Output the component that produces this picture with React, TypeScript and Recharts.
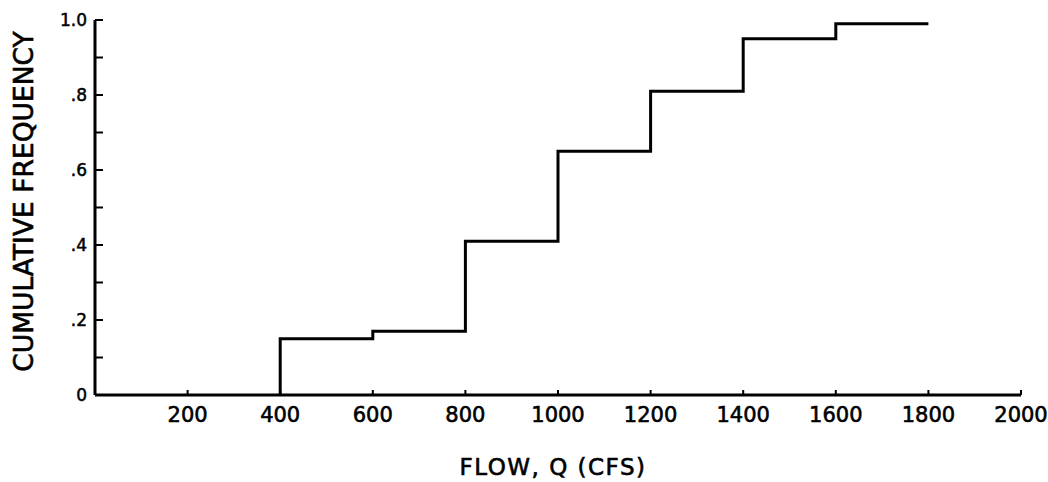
import React from "react";
import { LineChart, Line, XAxis, YAxis } from "recharts";

// step points of the cumulative frequency curve
const flows = [400, 400, 600, 800, 1000, 1200, 1400, 1600, 1800];
const cumFreq = [0, 0.15, 0.17, 0.41, 0.65, 0.81, 0.95, 0.99, 0.99];

const xTicks = [200, 400, 600, 800, 1000, 1200, 1400, 1600, 1800, 2000];
const yTicks = [0, 0.1, 0.2, 0.3, 0.4, 0.5, 0.6, 0.7, 0.8, 0.9, 1.0];
const yTickLabels: Record<string, string> = {
  "0": "0", "0.2": ".2", "0.4": ".4", "0.6": ".6", "0.8": ".8", "1": "1.0",
};

const data = flows.map((q, i) => ({ q, f: cumFreq[i] }));

const FONT = "'DejaVu Sans', sans-serif";

const YTitle = (props: any) => {
  const vb = props.viewBox || { x: 0, y: 0, width: 0, height: 0 };
  const x = vb.x + 23;
  const y = vb.y + vb.height / 2 - 6;
  return (
    <text x={x} y={y} transform={`rotate(-90, ${x}, ${y})`} textAnchor="middle"
      dominantBaseline="central" fontFamily={FONT} fontSize={26.5} fill="#000"
      stroke="#000" strokeWidth={0.6}>
      CUMULATIVE FREQUENCY
    </text>
  );
};

const XTitle = (props: any) => {
  const vb = props.viewBox || { x: 0, y: 0, width: 0, height: 0 };
  return (
    <text x={vb.x + vb.width / 2 - 5} y={vb.y + vb.height - 7} textAnchor="middle"
      fontFamily={FONT} fontSize={23} letterSpacing={1.5} fill="#000"
      stroke="#000" strokeWidth={0.6}>
      FLOW, Q (CFS)
    </text>
  );
};

export default function App() {
  return (
    <div style={{ position: "absolute", left: 0, top: 0, background: "#fff" }}>
      <LineChart width={1048} height={482} data={data}
        margin={{ top: 20, right: 27, bottom: 0, left: 0 }}>
        <XAxis dataKey="q" type="number" domain={[0, 2000]} ticks={xTicks}
          height={87} axisLine={{ stroke: "#000", strokeWidth: 3 }}
          tickLine={{ stroke: "#000", strokeWidth: 2 }} tickSize={-5} tickMargin={17}
          tick={{ fill: "#000", fontSize: 21, fontFamily: FONT, stroke: "#000", strokeWidth: 0.6 }}
          interval={0} label={{ content: <XTitle /> }} />
        <YAxis type="number" domain={[0, 1]} ticks={yTicks} width={95}
          axisLine={{ stroke: "#000", strokeWidth: 3 }}
          tickLine={{ stroke: "#000", strokeWidth: 2 }} tickSize={-8} tickMargin={16}
          tick={{ fill: "#000", fontSize: 17, fontFamily: FONT, stroke: "#000", strokeWidth: 0.5 }}
          tickFormatter={(v: number) => yTickLabels[String(Math.round(v * 10) / 10)] ?? ""}
          interval={0} label={{ content: <YTitle /> }} />
        <Line dataKey="f" type="stepAfter" stroke="#000" strokeWidth={3}
          dot={false} isAnimationActive={false} />
      </LineChart>
    </div>
  );
}
